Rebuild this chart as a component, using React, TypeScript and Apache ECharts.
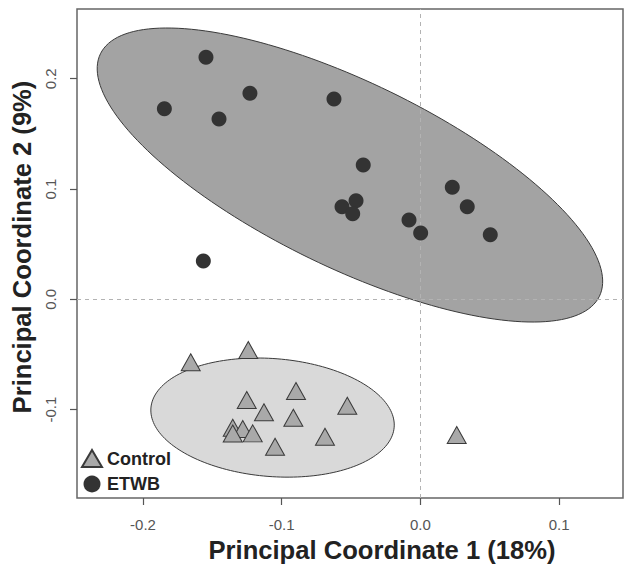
import React, { useEffect, useRef } from "react";
import * as echarts from "echarts";

// ---- data ----
const controlX = [-0.1656, -0.1241, -0.1252, -0.0897, -0.1128, -0.0916, -0.0527, -0.1353, -0.1281, -0.1209, -0.1353, -0.1048, -0.0688, 0.0262];
const controlY = [-0.0571, -0.0460, -0.0913, -0.0831, -0.1024, -0.1073, -0.0965, -0.1164, -0.1176, -0.1215, -0.1217, -0.1336, -0.1246, -0.1230];

const etwbX = [-0.1546, -0.1229, -0.1846, -0.1452, -0.0623, -0.0412, -0.0565, -0.0464, -0.0488, -0.0082, 0.0002, 0.0230, 0.0338, 0.0504, -0.1565];
const etwbY = [0.2194, 0.1868, 0.1728, 0.1635, 0.1816, 0.1218, 0.0840, 0.0894, 0.0776, 0.0719, 0.0601, 0.1015, 0.0840, 0.0586, 0.0347];

// ellipses: centre and two conjugate semi-axis vectors (data units)
const ellipseNames = ["Control", "ETWB"];
const ellipseCenters = [[-0.1066, -0.1072], [-0.0508, 0.1127]];
const ellipseAxisA = [[0.0877, -0.0087], [0.1799, -0.1099]];
const ellipseAxisB = [[-0.0033, -0.0533], [-0.0291, -0.0754]];

const xTicks = [-0.2, -0.1, 0, 0.1];
const yTicks = [-0.1, 0, 0.1, 0.2];
const xRange = [-0.2476, 0.1461];
const yRange = [-0.1801, 0.2632];

const xTitle = "Principal Coordinate 1 (18%)";
const yTitle = "Principal Coordinate 2 (9%)";

export default function App() {
  const ref = useRef<HTMLDivElement>(null);
  useEffect(() => {
    if (!ref.current) return;
    const chart = echarts.init(ref.current, null, { renderer: "svg" });
    const font = "Liberation Sans, Arial, sans-serif";
    const fills = ["#d9d9d9", "#a3a3a3"];
    const option: any = {
      animation: false,
      backgroundColor: "#ffffff",
      grid: {
        left: 77,
        right: 1,
        top: 9,
        bottom: 75,
        show: true,
        borderColor: "#666666",
        borderWidth: 1.5,
        backgroundColor: "transparent",
        containLabel: false,
        outerBoundsMode: "none",
      },
      xAxis: {
        type: "value",
        position: "bottom",
        min: xRange[0],
        max: xRange[1],
        splitLine: { show: false },
        axisLine: { show: false, onZero: false },
        axisTick: { show: true, inside: false, length: 7, lineStyle: { color: "#555", width: 1.2 }, customValues: xTicks },
        axisLabel: {
          customValues: xTicks,
          formatter: (v: number) => v.toFixed(1),
          fontFamily: font,
          fontSize: 15,
          color: "#555",
          margin: 19,
        },
        name: xTitle,
        nameLocation: "middle",
        nameGap: 36,
        nameTextStyle: {
          fontFamily: font,
          fontSize: 25.6,
          fontWeight: "bold",
          color: "#222",
          padding: [0, 0, 0, 64],
        },
      },
      yAxis: {
        type: "value",
        position: "left",
        min: yRange[0],
        max: yRange[1],
        splitLine: { show: false },
        axisLine: { show: false, onZero: false },
        axisTick: { show: true, inside: false, length: 7, lineStyle: { color: "#555", width: 1.2 }, customValues: yTicks },
        axisLabel: {
          customValues: yTicks,
          formatter: (v: number) => v.toFixed(1),
          rotate: 90,
          fontFamily: font,
          fontSize: 15,
          color: "#555",
          margin: 19,
        },
        name: yTitle,
        nameLocation: "middle",
        nameGap: 41,
        nameRotate: 90,
        nameTextStyle: {
          fontFamily: font,
          fontSize: 25.6,
          fontWeight: "bold",
          color: "#222",
          padding: [0, 0, 0, 13],
        },
      },
      legend: {
        orient: "vertical",
        left: 81,
        top: 449,
        padding: 0,
        itemWidth: 20,
        itemHeight: 17,
        itemGap: 7,
        selectedMode: false,
        textStyle: { fontFamily: font, fontSize: 18, fontWeight: "bold", color: "#222" },
        data: [
          { name: "Control", icon: "triangle" },
          { name: "ETWB", icon: "circle" },
        ],
      },
      series: [
        {
          type: "custom",
          name: "ellipses",
          z: 1,
          silent: true,
          data: ellipseCenters.map((c, i) => ({ name: ellipseNames[i], value: [c[0], c[1]] })),
          encode: { x: 0, y: 1 },
          renderItem: (params: any, api: any) => {
            const i = params.dataIndex;
            const c = ellipseCenters[i];
            const A = ellipseAxisA[i];
            const B = ellipseAxisB[i];
            const pts: number[][] = [];
            const n = 180;
            for (let k = 0; k < n; k++) {
              const t = (k / n) * Math.PI * 2;
              const ct = Math.cos(t);
              const st = Math.sin(t);
              pts.push(api.coord([c[0] + A[0] * ct + B[0] * st, c[1] + A[1] * ct + B[1] * st]));
            }
            return {
              type: "polygon",
              shape: { points: pts },
              style: { fill: fills[i], stroke: "#3a3a3a", lineWidth: 1 },
            };
          },
          markLine: {
            z: 2,
            silent: true,
            symbol: "none",
            label: { show: false },
            lineStyle: { color: "#b3b3b3", width: 1, type: [4, 4] },
            data: [{ xAxis: 0 }, { yAxis: 0 }],
          },
        },
        {
          type: "scatter",
          name: "Control",
          z: 3,
          symbol: "triangle",
          symbolSize: [19, 17],
          itemStyle: { color: "#a9a9a9", borderColor: "#3a3a3a", borderWidth: 1, opacity: 1 },
          data: controlX.map((x, i) => [x, controlY[i]]),
        },
        {
          type: "scatter",
          name: "ETWB",
          z: 3,
          symbol: "circle",
          symbolSize: 15,
          itemStyle: { color: "#333333", borderColor: "#333333", borderWidth: 0, opacity: 1 },
          data: etwbX.map((x, i) => [x, etwbY[i]]),
        },
      ],
    };
    chart.setOption(option);
    return () => chart.dispose();
  }, []);
  return (
    <div
      ref={ref}
      style={{ position: "absolute", left: 0, top: 0, width: 624, height: 573 }}
    />
  );
}
